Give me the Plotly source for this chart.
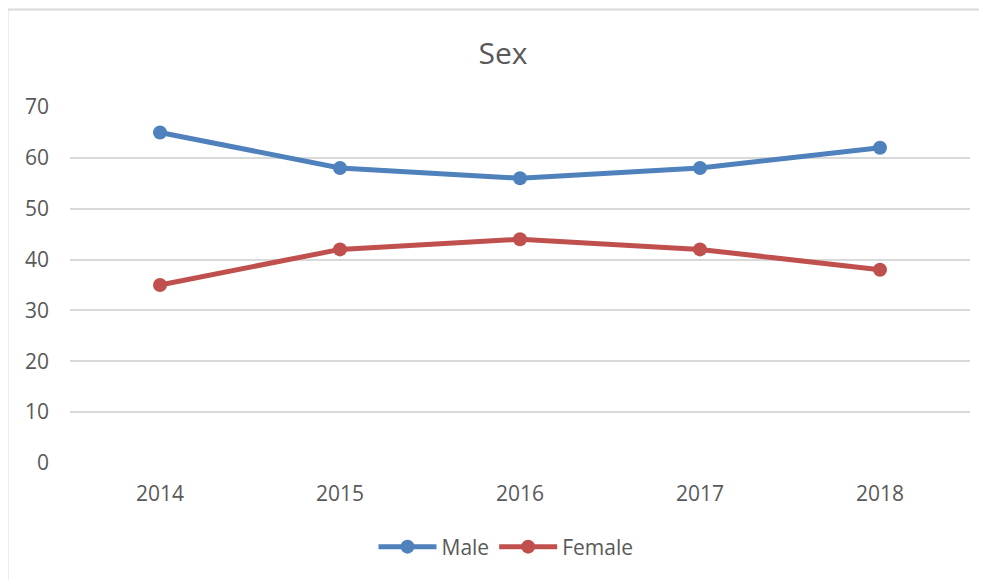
import plotly.graph_objects as go

years = ["2014", "2015", "2016", "2017", "2018"]
male = [65, 58, 56, 58, 62]
female = [35, 42, 44, 42, 38]
y_ticks = [0, 10, 20, 30, 40, 50, 60, 70]

TXT = "#595959"
GRID = "#d9d9d9"
FONT = "Open Sans, DejaVu Sans, sans-serif"

fig = go.Figure()
fig.add_trace(go.Scatter(x=years, y=male, name="Male", mode="lines+markers",
                         line=dict(color="#4f81bd", width=5),
                         marker=dict(size=14, color="#4f81bd")))
fig.add_trace(go.Scatter(x=years, y=female, name="Female", mode="lines+markers",
                         line=dict(color="#c0504d", width=5),
                         marker=dict(size=14, color="#c0504d")))

OFF = 8  # page offset of the figure in the window
W, H = 987, 580
# desired plot area in window coords: x 70..970, y 107..463
L, R, T, B = 70 - OFF, W - (970 - OFF), 107 - OFF, H - (463 - OFF)
pw, ph = W - L - R, H - T - B

def px(x):  # window x -> paper
    return (x - OFF - L) / pw

def py(y):  # window y -> paper
    return (H - B - (y - OFF)) / ph

fig.update_layout(
    width=W, height=H,
    margin=dict(l=L, r=R, t=T, b=B),
    paper_bgcolor="white", plot_bgcolor="white",
    font=dict(family=FONT, color=TXT, size=21),
    title=dict(text="Sex", x=px(503), xref="paper", xanchor="center",
               y=1 - (53 - OFF) / H, yanchor="middle",
               font=dict(size=30, color=TXT, family=FONT)),
    xaxis=dict(type="category", showgrid=False, zeroline=False, showline=False,
               ticks="", tickfont=dict(size=21, color=TXT), ticklabelstandoff=16,
               range=[-0.5, 4.5]),
    yaxis=dict(range=[0, 70], tickvals=y_ticks, showgrid=True, gridcolor=GRID,
               gridwidth=1.5, zeroline=False, showline=False, ticks="",
               tickfont=dict(size=21, color=TXT), ticklabelstandoff=20),
    legend=dict(orientation="h", x=px(506), xanchor="center", y=py(547),
                yanchor="middle", font=dict(size=21, color=TXT),
                itemwidth=58, tracegroupgap=0),
    showlegend=True,
    shapes=[
        dict(type="line", xref="paper", yref="paper", x0=px(7.5), x1=px(7.5),
             y0=py(9), y1=py(600), line=dict(color=GRID, width=2)),
        dict(type="line", xref="paper", yref="paper", x0=px(7), x1=px(1000),
             y0=py(9.5), y1=py(9.5), line=dict(color=GRID, width=2)),
    ],
)

fig.write_html("out.html")
